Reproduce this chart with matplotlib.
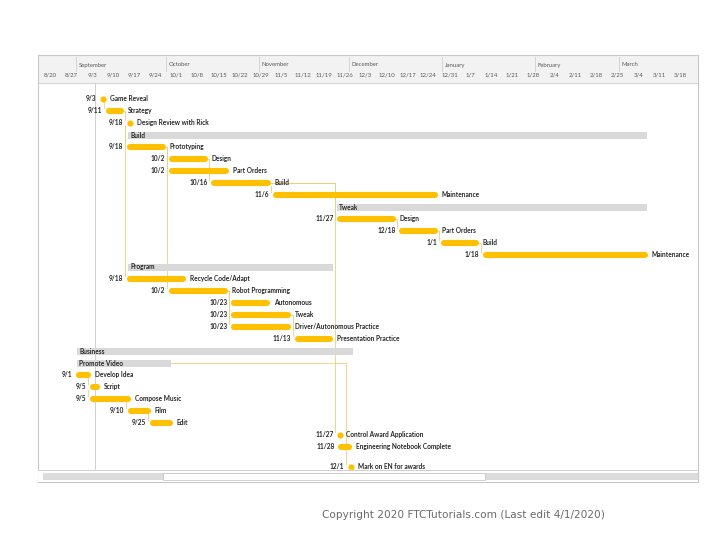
import matplotlib.pyplot as plt

# days counted from Monday 8/20/2018 (first week column of the chart)
week_labels = ['8/20', '8/27', '9/3', '9/10', '9/17', '9/24', '10/1', '10/8', '10/15',
               '10/22', '10/29', '11/5', '11/12', '11/19', '11/26', '12/3', '12/10',
               '12/17', '12/24', '12/31', '1/7', '1/14', '1/21', '1/28', '2/4', '2/11',
               '2/18', '2/25', '3/4', '3/11', '3/18']
months = ['September', 'October', 'November', 'December', 'January', 'February', 'March']
month_start = [12, 42, 73, 103, 134, 165, 193]

# task table
names = ['Game Reveal', 'Strategy', 'Design Review with Rick', 'Build',
         'Prototyping', 'Design', 'Part Orders', 'Build', 'Maintenance',
         'Tweak', 'Design', 'Part Orders', 'Build', 'Maintenance',
         'Program', 'Recycle Code/Adapt', 'Robot Programming', 'Autonomous', 'Tweak',
         'Driver/Autonomous Practice', 'Presentation Practice',
         'Business', 'Promote Video', 'Develop Idea', 'Script', 'Compose Music', 'Film', 'Edit',
         'Control Award Application', 'Engineering Notebook Complete', 'Mark on EN for awards']
date_labels = ['9/3', '9/11', '9/18', '',
               '9/18', '10/2', '10/2', '10/16', '11/6',
               '', '11/27', '12/18', '1/1', '1/18',
               '', '9/18', '10/2', '10/23', '10/23', '10/23', '11/13',
               '', '', '9/1', '9/5', '9/5', '9/10', '9/25',
               '11/27', '11/28', '12/1']
start = [20, 22, 29, 29.3,
         29, 43, 43, 57, 77.7,
         99, 99, 119.7, 133.7, 147.7,
         29.3, 29, 43, 63.7, 63.7, 63.7, 85,
         12.3, 12.3, 12, 16.7, 16.7, 29.3, 36.7,
         99, 99.3, 102.7]
duration = [2, 6, 2, 173,
            13, 13, 20, 20, 55,
            103.3, 19.7, 13, 12.7, 55,
            68.3, 19.7, 19.7, 13, 20, 20, 12.7,
            92, 31.4, 5, 3.3, 13.7, 7.7, 7.7,
            1.7, 4.7, 2]
is_group = [False, False, False, True,
            False, False, False, False, False,
            True, False, False, False, False,
            True, False, False, False, False, False, False,
            True, True, False, False, False, False, False,
            False, False, False]
rows = list(range(30)) + [30.7]

# predecessor -> successor links
links = [(0, 1), (1, 2), (2, 4), (2, 15), (4, 5), (4, 6), (4, 16), (5, 7), (7, 8),
         (7, 10), (7, 28), (10, 11), (11, 12), (12, 13), (16, 17), (16, 18), (16, 19),
         (18, 20), (23, 24), (24, 25), (25, 26), (26, 27), (22, 30)]

today = 18.3

GOLD = '#ffc000'
GREY_BAR = '#d9d9d9'
LINK = '#f2cc7a'
TXT = '#262626'
FONT = ['Lato', 'DejaVu Sans']
FS = 4.7

fig = plt.figure(figsize=(7.2, 5.4), dpi=100)
ax = fig.add_axes([38 / 720, 58 / 540, 660 / 720, 427 / 540])
ax.set_xlim(-2 / 3, 658 / 3)
ax.set_ylim(482, 55)  # y in pixel-like units, top down
ax.set_xticks([])
ax.set_yticks([])
for s in ax.spines.values():
    s.set_color('#c8c8c8')
    s.set_linewidth(0.8)


def ypos(r):
    return 99 + 12 * r


# header
ax.axhspan(55, 83, color='#f2f2f2', zorder=0)
ax.axhline(83, color='#d0d0d0', lw=0.6)
for m, d in zip(months, month_start):
    ax.text(d + 1, 65, m, fontsize=4.3, color='#595959', va='center', ha='left', family=FONT)
    ax.plot([d, d], [57, 71], color='#d0d0d0', lw=0.6)
for i, w in enumerate(week_labels):
    ax.text(i * 7 + 3.5, 75, w, fontsize=4.3, color='#595959', va='center', ha='center',
            family=FONT)

# today line
ax.plot([today, today], [83, 470], color='#cfcfcf', lw=0.7, zorder=1)

# dependency links
for a, b in links:
    ya, yb = ypos(rows[a]), ypos(rows[b])
    xe = start[a] + duration[a]
    xs = start[b] - 0.7
    if xs > xe:
        ax.plot([xe, xs, xs], [ya, ya, yb - 3], color=LINK, lw=0.6, zorder=2)
    else:
        ax.plot([xs, xs], [ya + 3, yb - 3], color=LINK, lw=0.6, zorder=2)

# bars
for i in range(len(names)):
    y = ypos(rows[i])
    if is_group[i]:
        ax.barh(y, duration[i], left=start[i], height=7, color=GREY_BAR, zorder=3)
        ax.text(start[i] + 0.8, y, names[i], fontsize=FS, fontweight='bold', color=TXT,
                va='center', ha='left', family=FONT, zorder=4)
    else:
        x0, x1 = start[i] + 1, start[i] + duration[i] - 1
        if x1 - x0 < 0.3:
            ax.plot([start[i] + duration[i] / 2], [y], 'o', color=GOLD, ms=4.5, mew=0,
                    zorder=3)
        else:
            ax.plot([x0, x1], [y, y], color=GOLD, lw=4.4, solid_capstyle='round', zorder=3)
        ax.text(start[i] - 1.2, y - 0.5, date_labels[i], fontsize=FS, fontweight='bold',
                color=TXT, va='center', ha='right', family=FONT, zorder=4)
        ax.text(start[i] + duration[i] + 1.2, y - 0.5, names[i], fontsize=FS,
                fontweight='bold', color=TXT, va='center', ha='left', family=FONT, zorder=4)

# scroll bar
ax.axhspan(470, 482, color='#ffffff', zorder=5)
ax.axhline(470, color='#c8c8c8', lw=0.6, zorder=6)
ax.barh(476, 219, left=1, height=7, color='#dcdcdc', zorder=6)
ax.barh(476, 107.3, left=41, height=7, color='white', edgecolor='#c0c0c0', lw=0.5, zorder=7)

fig.text(463 / 720, 1 - 515 / 540, 'Copyright 2020 FTCTutorials.com (Last edit 4/1/2020)',
         fontsize=7.6, color='#6b6b6b', ha='center', va='center', family='DejaVu Sans')

plt.savefig('out.png', dpi=100)
